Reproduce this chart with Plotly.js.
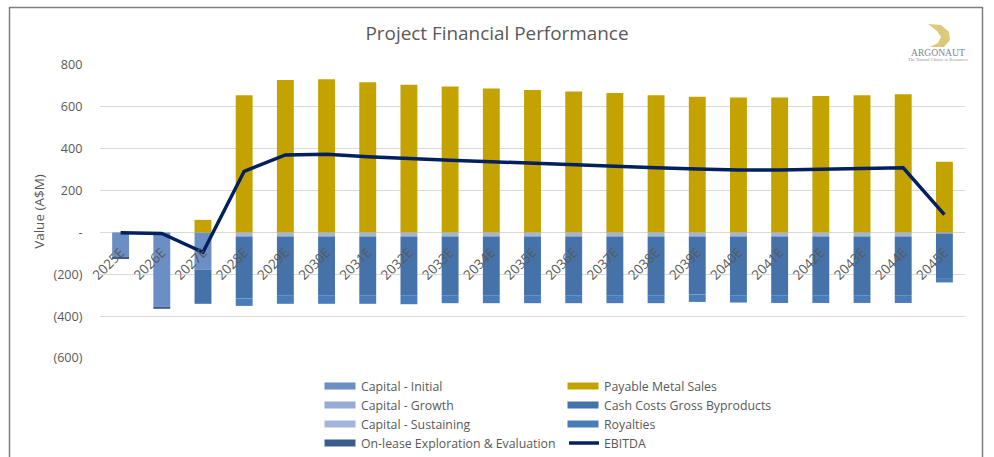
<!DOCTYPE html>
<html><head><meta charset="utf-8">
<script src="https://cdn.plot.ly/plotly-3.0.1.min.js"></script>
<style>html,body{margin:0;padding:0;background:#fff;overflow:hidden}#c{width:994px;height:457px}</style>
</head><body><div id="c"></div>
<script>
const years = ['2025E','2026E','2027E','2028E','2029E','2030E','2031E','2032E','2033E','2034E','2035E','2036E','2037E','2038E','2039E','2040E','2041E','2042E','2043E','2044E','2045E'];
const capitalInitial = [-120,-355,-175,0,0,0,0,0,0,0,0,0,0,0,0,0,0,0,0,0,0];
const capitalGrowth = [0,0,-3,0,0,0,0,0,0,0,0,0,0,0,0,0,0,0,0,0,0];
const capitalSustaining = [0,0,0,-20,-20,-20,-20,-20,-20,-20,-20,-20,-20,-20,-20,-20,-20,-20,-20,-20,-6];
const onLease = [-3,-10,0,0,0,0,0,0,0,0,0,0,0,0,0,0,0,0,0,0,0];
const cashCosts = [0,0,-163,-296,-280,-280,-280,-280,-280,-280,-280,-280,-280,-280,-277,-280,-280,-280,-280,-283,-216];
const royalties = [0,0,0,-35,-41,-41,-41,-43,-38,-38,-38,-38,-38,-38,-35,-35,-37,-37,-37,-34,-17];
const payable = [0,0,60,655,728,732,718,706,697,688,680,673,666,656,648,645,645,652,656,660,338];
const ebitda = [-2,-5,-95,292,370,374,362,352,345,338,330,323,316,309,303,298,298,301,305,309,85];
const tickValues = [800,600,400,200,0,-200,-400,-600];
const tickLabels = ['800','600','400','200','-','(200)','(400)','(600)'];

const font = '"Open Sans","Noto Sans",sans-serif';
const grey = '#595959';
const bar = (name, y, color, legend) => ({type:'bar', name, x:years, y, legend,
  marker:{color, line:{width:0}}});
const traces = [
  bar('Capital - Initial', capitalInitial, '#6b8fc5', 'legend'),
  bar('Capital - Growth', capitalGrowth, '#98abd5', 'legend'),
  bar('Capital - Sustaining', capitalSustaining, '#a3b4da', 'legend'),
  bar('On-lease Exploration & Evaluation', onLease, '#3b5c8e', 'legend'),
  bar('Payable Metal Sales', payable, '#c4a300', 'legend2'),
  bar('Cash Costs Gross Byproducts', cashCosts, '#4573a9', 'legend2'),
  bar('Royalties', royalties, '#4b7cba', 'legend2'),
  {type:'scatter', mode:'lines', name:'EBITDA', legend:'legend2', x:years, y:ebitda, line:{color:'#002060', width:3.5}}
];
const W = 865, H = 293, L = 100, T = 65;
const px = v => (v - L) / W, py = v => (T + H - v) / H;
const P = (a, b) => px(a).toFixed(4) + ',' + py(b).toFixed(4);
const legendBase = {xanchor:'left', yanchor:'top', y:py(371.5), orientation:'v', font:{size:12.3, color:grey, family:font}, itemclick:false, itemdoubleclick:false, bgcolor:'rgba(0,0,0,0)', traceorder:'normal'};
const layout = {
  width:994, height:457, paper_bgcolor:'#fff', plot_bgcolor:'#fff',
  margin:{l:L, r:994-L-W, t:T, b:457-T-H, autoexpand:false},
  font:{family:font, color:grey, size:13},
  title:{text:'Project Financial Performance', font:{size:18.9, color:grey, family:font}, x:0.5, xanchor:'center', y:0.927, yanchor:'middle'},
  barmode:'relative', bargap:0.59,
  showlegend:true,
  legend:Object.assign({}, legendBase, {x:px(321)}),
  legend2:Object.assign({}, legendBase, {x:px(564)}),
  xaxis:{type:'category', anchor:'free', position:600/1400, tickangle:-45, ticks:'outside', ticklen:6, tickcolor:'rgba(0,0,0,0)', showgrid:false, showline:false, zeroline:false,
    tickfont:{size:13.5, color:grey, family:font}, automargin:false},
  yaxis:{range:[-600,800], tickvals:tickValues, ticktext:tickLabels, gridcolor:'#d9d9d9', gridwidth:1.2, zeroline:false, showline:false,
    ticks:'outside', ticklen:14, tickcolor:'rgba(0,0,0,0)', tickfont:{size:12.6, color:grey, family:font}, automargin:false,
    title:{text:'Value (A$M)', font:{size:13.5, color:grey, family:font}, standoff:5}},
  shapes:[
    {type:'rect', xref:'paper', yref:'paper', x0:px(9.5), x1:px(982.5), y0:py(7.5), y1:py(470), line:{color:'#7f7f7f', width:1.5}, fillcolor:'rgba(0,0,0,0)', layer:'below'},
    {type:'path', xref:'paper', yref:'paper', fillcolor:'#dcc97a', line:{width:0},
      path:'M'+P(928,24)+' L'+P(941,25)+' L'+P(949,32)+' L'+P(950,40)+' L'+P(944,47)+' L'+P(930,47)+' L'+P(938,43)+' L'+P(941,37)+' L'+P(937,31)+' Z'}
  ],
  annotations:[
    {text:'ARGONAUT', xref:'paper', yref:'paper', x:px(938), y:py(52), xanchor:'center', yanchor:'middle', showarrow:false, font:{family:'"Liberation Serif",serif', size:9.6, color:'#7a8794'}},
    {text:'The Natural Choice in Resources', xref:'paper', yref:'paper', x:px(938), y:py(59.5), xanchor:'center', yanchor:'middle', showarrow:false, font:{family:'"Liberation Serif",serif', size:4.5, color:'#8a94a0'}}
  ]
};
Plotly.newPlot('c', traces, layout, {displayModeBar:false}).then(() => {
  document.querySelectorAll('.legendpoints path').forEach(p => {
    p.setAttribute('d', 'M14.5,3.5H-16.5V-3.5H14.5Z');
  });
});
</script></body></html>
